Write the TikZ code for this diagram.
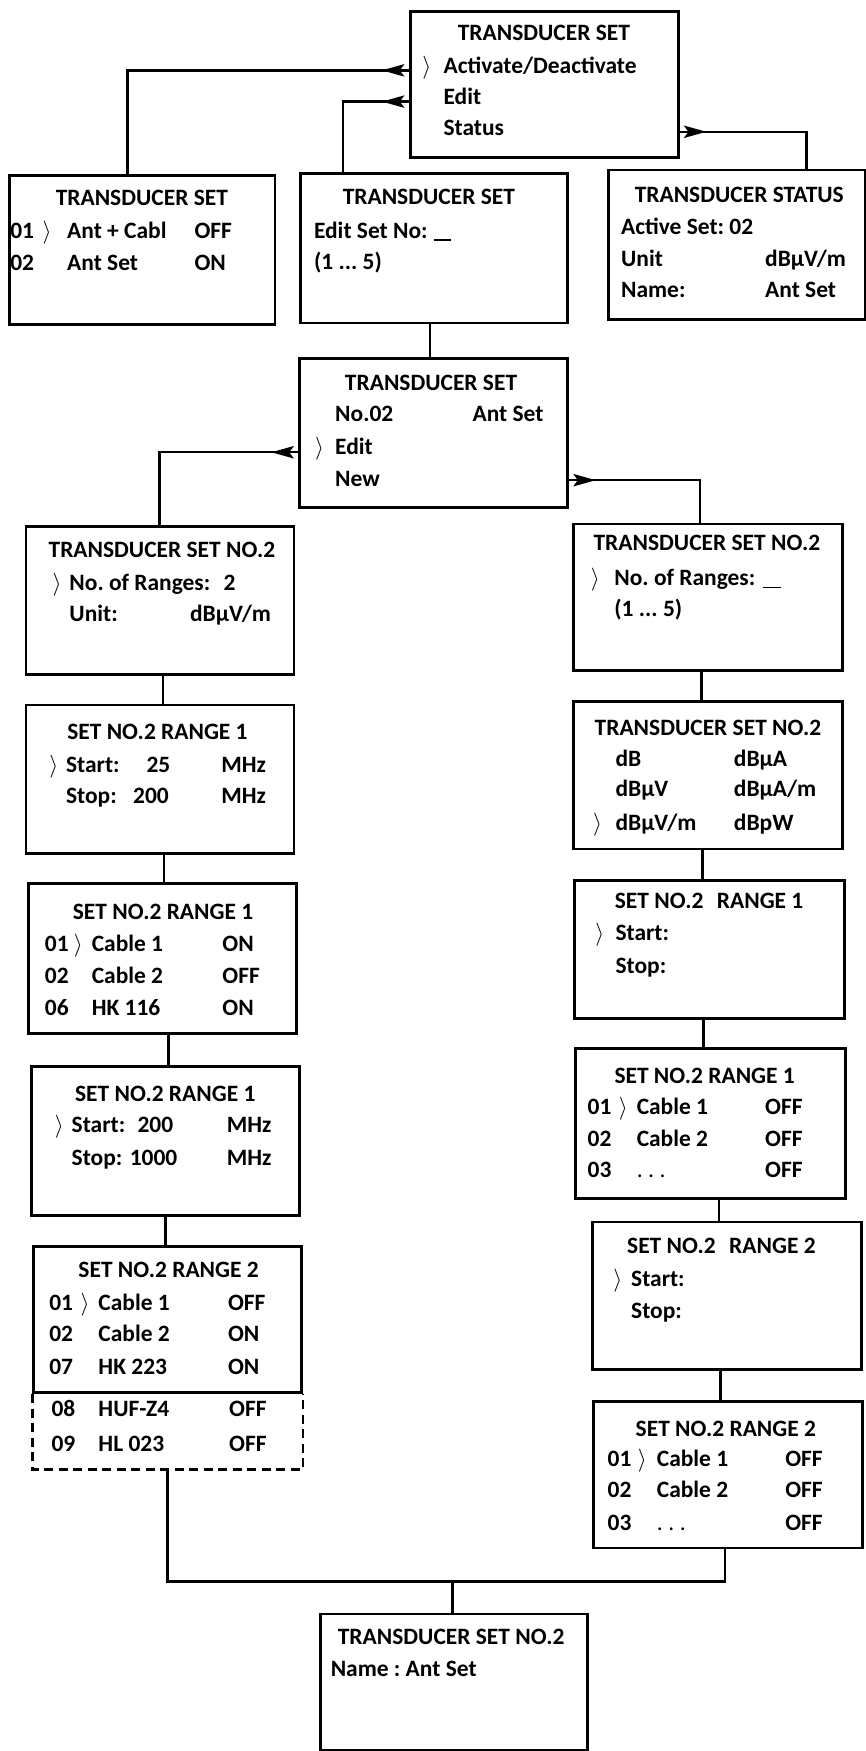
\documentclass[tikz,border=0pt]{standalone}
\usepackage{fontspec}
\setmainfont{Carlito}
\usetikzlibrary{arrows.meta}
\frenchspacing
\newcommand\mkbox[5]{\node[box, minimum width={(#4-#2)*1pt}, minimum height={(#5-#3)*1pt}] (#1) at (#2,#3) {};}
\newcommand\tx[3]{\node[txt, anchor=mid west] (t#1x#2) at (#1,#2) {#3};}
\newcommand\tc[3]{\node[txt, anchor=mid] (t#1x#2) at (#1,#2) {#3};}
\newcommand\blank{\rule[-2.5pt]{16pt}{1.6pt}}
\newcommand\ang{$\rangle$}
\newcommand\dotz{{\mdseries .\hspace{5pt}.\hspace{5pt}.}}
\begin{document}
\begin{tikzpicture}[x=1pt,y=-1pt,
  box/.style={draw, line width=2.5pt, inner sep=0pt, anchor=north west},
  conn/.style={line width=2.2pt},
  tipline/.style={line width=2.2pt, -{Stealth[length=20pt,width=11pt,inset=4pt]}},
  txt/.style={inner sep=0pt, font=\fontsize{21}{25}\selectfont\bfseries}]
\useasboundingbox[fill=white] (0,0) rectangle (775,1568);

% boxes
\mkbox{T}{366}{9}{606}{140}
\mkbox{A}{7}{156}{245}{289}
\mkbox{B}{268}{154}{507}{288}
\mkbox{C}{544}{151}{774}{285}
\mkbox{D}{267}{320}{507}{453}
\mkbox{E}{22}{470}{262}{603}
\mkbox{F}{512}{468}{753}{599}
\mkbox{G}{22}{630}{262}{763}
\mkbox{H}{24}{790}{264}{924}
\mkbox{I}{27}{954}{267}{1087}
\mkbox{J}{29}{1115}{269}{1246}
\mkbox{K}{512}{627}{753}{759}
\mkbox{L}{513}{787}{755}{911}
\mkbox{M}{514}{938}{756}{1072}
\mkbox{N}{529}{1093}{770}{1225}
\mkbox{P}{530}{1254}{771}{1385}
\mkbox{O}{286}{1444}{525}{1566}

% dashed extension of J
\coordinate (Jx) at (150,1316);
\draw[line width=2.2pt, dash pattern=on 8pt off 5pt] (J.south west) -- (J.south west |- Jx) -- (J.south east |- Jx) -- (J.south east);

% connectors from the top menu
\coordinate (c1) at (114,63);
\coordinate (c2) at (307,91);
\coordinate (c3) at (722,118);
\draw[conn] (T.west |- c1) -- (c1) -- (c1 |- A.north);
\draw[tipline] (T.west |- c1) -- ++(-24,0);
\draw[conn] (T.west |- c2) -- (c2) -- (c2 |- B.north);
\draw[tipline] (T.west |- c2) -- ++(-24,0);
\draw[conn] (T.east |- c3) -- (c3) -- (c3 |- C.north);
\draw[tipline] (T.east |- c3) -- ++(24,0);

\coordinate (c4) at (385,0);
\draw[conn] (B.south -| c4) -- (D.north -| c4);

\coordinate (c5) at (143,405);
\coordinate (c6) at (627,430);
\draw[conn] (D.west |- c5) -- (c5) -- (c5 |- E.north);
\draw[tipline] (D.west |- c5) -- ++(-24,0);
\draw[conn] (D.east |- c6) -- (c6) -- (c6 |- F.north);
\draw[tipline] (D.east |- c6) -- ++(24,0);

% left column
\coordinate (l1) at (146,0);
\coordinate (l2) at (147,0);
\coordinate (l3) at (151,0);
\coordinate (l4) at (148,0);
\draw[conn] (E.south -| l1) -- (G.north -| l1);
\draw[conn] (G.south -| l2) -- (H.north -| l2);
\draw[conn] (H.south -| l3) -- (I.north -| l3);
\draw[conn] (I.south -| l4) -- (J.north -| l4);

% right column
\coordinate (r1) at (628,0);
\coordinate (r2) at (629,0);
\coordinate (r3) at (630,0);
\coordinate (r4) at (644,0);
\coordinate (r5) at (645,0);
\draw[conn] (F.south -| r1) -- (K.north -| r1);
\draw[conn] (K.south -| r2) -- (L.north -| r2);
\draw[conn] (L.south -| r3) -- (M.north -| r3);
\draw[conn] (M.south -| r4) -- (N.north -| r4);
\draw[conn] (N.south -| r5) -- (P.north -| r5);

% join
\coordinate (jl) at (150,1416);
\coordinate (jr) at (649,1416);
\coordinate (jm) at (405,1416);
\draw[conn] (Jx) -- (jl) -- (jr) -- (P.south -| jr);
\draw[conn] (jm) -- (O.north -| jm);

% texts
\tc{487}{34}{TRANSDUCER SET}
\tx{378}{63}{\ang} \tx{397}{63}{Activate/Deactivate}
\tx{397}{91}{Edit}
\tx{397}{119}{Status}

\tc{127}{182}{TRANSDUCER SET}
\tx{9}{211}{01} \tx{38}{211}{\ang} \tx{60}{211}{Ant + Cabl} \tx{174}{211}{OFF}
\tx{9}{240}{02} \tx{60}{240}{Ant Set} \tx{174}{240}{ON}

\tc{384}{181}{TRANSDUCER SET}
\tx{281}{211}{Edit Set No:} \tx{388}{211}{\blank}
\tx{281}{239}{(1 ... 5)}

\tc{662}{179}{TRANSDUCER STATUS}
\tx{556}{208}{Active Set: 02}
\tx{556}{236}{Unit} \tx{685}{236}{dBµV/m}
\tx{556}{264}{Name:} \tx{685}{264}{Ant Set}

\tc{386}{347}{TRANSDUCER SET}
\tx{300}{375}{No.02} \tx{423}{375}{Ant Set}
\tx{282}{405}{\ang} \tx{300}{405}{Edit}
\tx{300}{433}{New}

\tc{145}{497}{TRANSDUCER SET NO.2}
\tx{47}{526}{\ang} \tx{62}{526}{No. of Ranges:} \tx{200}{526}{2}
\tx{62}{554}{Unit:} \tx{170}{554}{dBµV/m}

\tc{633}{491}{TRANSDUCER SET NO.2}
\tx{529}{522}{\ang} \tx{550}{522}{No. of Ranges:} \tx{683}{522}{\blank}
\tx{550}{550}{(1 ... 5)}

\tc{141}{660}{SET NO.2 RANGE 1}
\tx{44}{689}{\ang} \tx{59}{689}{Start:} \tx{131}{689}{25} \tx{198}{689}{MHz}
\tx{59}{717}{Stop:} \tx{119}{717}{200} \tx{198}{717}{MHz}

\tc{146}{821}{SET NO.2 RANGE 1}
\tx{40}{850}{01} \tx{66}{850}{\ang} \tx{82}{850}{Cable 1} \tx{199}{850}{ON}
\tx{40}{878}{02} \tx{82}{878}{Cable 2} \tx{199}{878}{OFF}
\tx{40}{907}{06} \tx{82}{907}{HK 116} \tx{199}{907}{ON}

\tc{148}{984}{SET NO.2 RANGE 1}
\tx{49}{1012}{\ang} \tx{64}{1012}{Start:} \tx{123}{1012}{200} \tx{203}{1012}{MHz}
\tx{64}{1041}{Stop:} \tx{116}{1041}{1000} \tx{203}{1041}{MHz}

\tc{151}{1142}{SET NO.2 RANGE 2}
\tx{44}{1171}{01} \tx{72}{1171}{\ang} \tx{88}{1171}{Cable 1} \tx{204}{1171}{OFF}
\tx{44}{1199}{02} \tx{88}{1199}{Cable 2} \tx{204}{1199}{ON}
\tx{44}{1228}{07} \tx{88}{1228}{HK 223} \tx{204}{1228}{ON}
\tx{46}{1266}{08} \tx{88}{1266}{HUF-Z4} \tx{205}{1266}{OFF}
\tx{46}{1297}{09} \tx{88}{1297}{HL 023} \tx{205}{1297}{OFF}

\tc{634}{656}{TRANSDUCER SET NO.2}
\tx{551}{684}{dB} \tx{657}{684}{dBµA}
\tx{551}{711}{dBµV} \tx{657}{711}{dBµA/m}
\tx{531}{741}{\ang} \tx{551}{741}{dBµV/m} \tx{657}{741}{dBpW}

\tc{635}{811}{SET NO.2\hspace{.35em} RANGE 1}
\tx{533}{840}{\ang} \tx{551}{840}{Start:}
\tx{551}{869}{Stop:}

\tc{631}{968}{SET NO.2 RANGE 1}
\tx{526}{996}{01} \tx{554}{996}{\ang} \tx{570}{996}{Cable 1} \tx{685}{996}{OFF}
\tx{526}{1024}{02} \tx{570}{1024}{Cable 2} \tx{685}{1024}{OFF}
\tx{526}{1052}{03} \tx{570}{1052}{\dotz} \tx{685}{1052}{OFF}

\tc{646}{1120}{SET NO.2\hspace{.35em} RANGE 2}
\tx{549}{1150}{\ang} \tx{565}{1150}{Start:}
\tx{565}{1178}{Stop:}

\tc{650}{1284}{SET NO.2 RANGE 2}
\tx{544}{1311}{01} \tx{571}{1311}{\ang} \tx{588}{1311}{Cable 1} \tx{703}{1311}{OFF}
\tx{544}{1339}{02} \tx{588}{1339}{Cable 2} \tx{703}{1339}{OFF}
\tx{544}{1368}{03} \tx{588}{1368}{\dotz} \tx{703}{1368}{OFF}

\tc{404}{1470}{TRANSDUCER SET NO.2}
\tx{296}{1499}{Name : Ant Set}
\end{tikzpicture}
\end{document}
